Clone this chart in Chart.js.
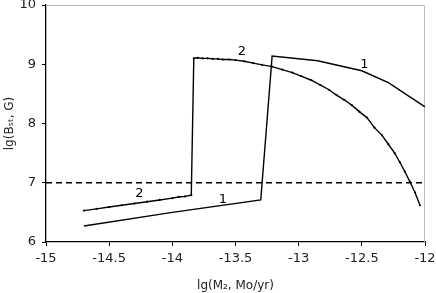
<!DOCTYPE html>
<html lang="en">
<head>
    <meta charset="UTF-8">
    <title>lg(Bst) vs lg(M2)</title>
    <script src="https://cdn.jsdelivr.net/npm/chart.js"></script>
    <style>
        html, body { margin: 0; padding: 0; background: #fff; }
        #wrap { width: 436px; height: 293px; }
    </style>
</head>
<body>
    <div id="wrap"><canvas id="bChart" width="436" height="293"></canvas></div>

    <script>
        // curve 1 (plain line)
        const curve1X = [-14.70, -14.00, -13.30, -13.21, -12.85, -12.50, -12.29, -12.00];
        const curve1Y = [6.27, 6.50, 6.71, 9.14, 9.06, 8.89, 8.69, 8.28];

        // curve 2 (line with small markers)
        const curve2X = [-14.70, -14.60, -14.50, -14.40, -14.30, -14.20, -14.10, -14.00, -13.95, -13.90, -13.85,
                         -13.83, -13.80, -13.76, -13.72, -13.68, -13.64, -13.60, -13.55, -13.50, -13.43, -13.36,
                         -13.29, -13.21, -13.13, -13.05, -12.98, -12.90, -12.83, -12.76, -12.70, -12.64, -12.58,
                         -12.52, -12.46, -12.40, -12.34, -12.29, -12.24, -12.20, -12.16, -12.12, -12.08, -12.04];
        const curve2Y = [6.53, 6.56, 6.59, 6.62, 6.65, 6.68, 6.71, 6.74, 6.76, 6.77, 6.79,
                         9.10, 9.11, 9.10, 9.10, 9.09, 9.09, 9.08, 9.08, 9.07, 9.05, 9.02,
                         8.99, 8.96, 8.91, 8.86, 8.80, 8.73, 8.65, 8.57, 8.48, 8.40, 8.31,
                         8.20, 8.10, 7.93, 7.80, 7.65, 7.50, 7.35, 7.19, 7.02, 6.84, 6.62];

        // threshold line lg(B) = 7
        const limitX = [-15, -12];
        const limitY = [7, 7];

        // curve number labels
        const labelText = ['2', '1', '2', '1'];
        const labelX = [-14.26, -13.60, -13.45, -12.48];
        const labelY = [6.81, 6.72, 9.21, 8.99];

        const xTicks = [-15, -14.5, -14, -13.5, -13, -12.5, -12];
        const yTicks = [6, 7, 8, 9, 10];

        const toPoints = (xs, ys) => xs.map((x, i) => ({ x: x, y: ys[i] }));

        // grey frame on top and right of the plot area
        const frame = {
            id: 'frame',
            beforeDatasetsDraw(chart) {
                const a = chart.chartArea, c = chart.ctx;
                c.save();
                c.strokeStyle = '#bdbdbd';
                c.lineWidth = 1;
                c.beginPath();
                c.moveTo(a.left, a.top + 0.5);
                c.lineTo(a.right - 0.5, a.top + 0.5);
                c.lineTo(a.right - 0.5, a.bottom);
                c.stroke();
                c.restore();
            }
        };

        const curveLabels = {
            id: 'curveLabels',
            afterDatasetsDraw(chart) {
                const c = chart.ctx, xs = chart.scales.x, ys = chart.scales.y;
                c.save();
                c.font = '13px "DejaVu Sans", Verdana, sans-serif';
                c.fillStyle = '#000';
                c.textAlign = 'center';
                c.textBaseline = 'middle';
                labelText.forEach((t, i) => {
                    c.fillText(t, xs.getPixelForValue(labelX[i]), ys.getPixelForValue(labelY[i]));
                });
                c.restore();
            }
        };

        const tickFont = { family: '"DejaVu Sans", Verdana, sans-serif', size: 13 };
        const titleFont = { family: '"DejaVu Sans", Verdana, sans-serif', size: 12 };

        new Chart(document.getElementById('bChart'), {
            type: 'scatter',
            data: {
                datasets: [
                    {
                        data: toPoints(limitX, limitY),
                        showLine: true,
                        borderColor: '#000',
                        borderWidth: 1.3,
                        borderDash: [6, 4],
                        pointRadius: 0
                    },
                    {
                        data: toPoints(curve1X, curve1Y),
                        showLine: true,
                        borderColor: '#000',
                        borderWidth: 1.4,
                        pointRadius: 0
                    },
                    {
                        data: toPoints(curve2X, curve2Y),
                        showLine: true,
                        borderColor: '#000',
                        borderWidth: 1.4,
                        pointRadius: 1.1,
                        pointBackgroundColor: '#000',
                        pointBorderWidth: 0
                    }
                ]
            },
            options: {
                responsive: false,
                animation: false,
                layout: { padding: { top: 5, right: 11, left: 0, bottom: 0 } },
                plugins: { legend: { display: false }, tooltip: { enabled: false } },
                scales: {
                    x: {
                        type: 'linear',
                        min: -15,
                        max: -12,
                        afterBuildTicks: s => { s.ticks = xTicks.map(v => ({ value: v })); },
                        afterFit: s => { s.height = 51; s.paddingLeft = 0; s.paddingRight = 0; },
                        grid: { drawOnChartArea: false, drawTicks: true, tickLength: 4, color: '#000' },
                        border: { color: '#000', width: 1.3 },
                        ticks: { color: '#222', font: tickFont, padding: 5, maxRotation: 0, callback: v => String(v) },
                        title: { display: true, text: 'lg(M₂, Mo/yr)', color: '#222', font: titleFont, padding: { top: 4, bottom: 0 } }
                    },
                    y: {
                        type: 'linear',
                        min: 6,
                        max: 10,
                        afterBuildTicks: s => { s.ticks = yTicks.map(v => ({ value: v })); },
                        afterFit: s => { s.width = 46; s.paddingTop = 0; s.paddingBottom = 0; },
                        grid: { drawOnChartArea: false, drawTicks: true, tickLength: 4, color: '#000' },
                        border: { color: '#000', width: 1.3 },
                        ticks: { color: '#222', font: tickFont, padding: 6, callback: v => String(v) },
                        title: { display: true, text: 'lg(Bₛₜ, G)', color: '#222', font: titleFont, padding: { top: 3, bottom: 0 } }
                    }
                }
            },
            plugins: [frame, curveLabels]
        });
    </script>
</body>
</html>
